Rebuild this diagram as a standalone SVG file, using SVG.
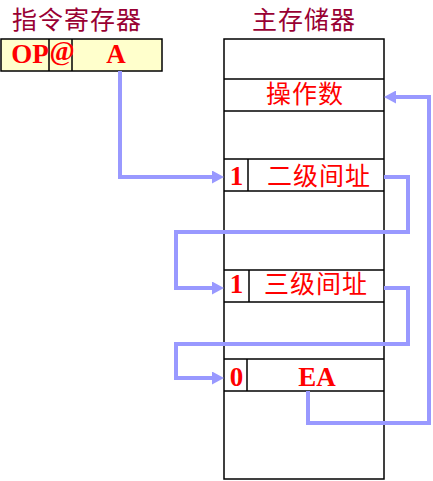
<svg xmlns="http://www.w3.org/2000/svg" width="433" height="481" viewBox="0 0 433 481">
<style>
.title{font-family:"Noto Sans CJK SC","Noto Sans",sans-serif;font-size:25px;fill:#990033;letter-spacing:1px}
.cjk{font-family:"Noto Sans CJK SC","Noto Sans",sans-serif;font-size:25px;fill:#ff0000;letter-spacing:1px}
.lat{font-family:"Liberation Serif",serif;font-weight:bold;font-size:27px;fill:#ff0000}
.box{fill:#ffffff;stroke:#000000;stroke-width:1.5}
.reg{fill:#ffffcc;stroke:#000000;stroke-width:1.5}
.ln{stroke:#000000;stroke-width:1.5;fill:none}
.conn{fill:none;stroke:#9999ff;stroke-width:4}
</style>
<defs>
<marker id="ah" viewBox="0 0 12 13" refX="0" refY="6.5" markerWidth="12" markerHeight="13" markerUnits="userSpaceOnUse" orient="auto">
<path d="M0,0 L12,6.5 L0,13 z" fill="#9999ff"/>
</marker>
</defs>
<g id="register">
<text class="title" x="12" y="29">指令寄存器</text>
<rect class="reg" x="1" y="39" width="161" height="32"/>
<line class="ln" x1="49" y1="39" x2="49" y2="71"/>
<line class="ln" x1="72" y1="39" x2="72" y2="71"/>
<text class="lat" x="30" y="63" text-anchor="middle">OP</text>
<text class="lat" x="62" y="60" text-anchor="middle">@</text>
<text class="lat" x="116" y="63" text-anchor="middle">A</text>
</g>
<g id="memory">
<text class="title" x="304" y="29" text-anchor="middle">主存储器</text>
<rect class="box" x="224" y="39" width="160" height="440"/>
<line class="ln" x1="224" y1="79" x2="384" y2="79"/>
<line class="ln" x1="224" y1="111" x2="384" y2="111"/>
<line class="ln" x1="224" y1="159" x2="384" y2="159"/>
<line class="ln" x1="224" y1="191" x2="384" y2="191"/>
<line class="ln" x1="224" y1="270" x2="384" y2="270"/>
<line class="ln" x1="224" y1="302" x2="384" y2="302"/>
<line class="ln" x1="224" y1="359" x2="384" y2="359"/>
<line class="ln" x1="224" y1="391" x2="384" y2="391"/>
<line class="ln" x1="248" y1="159" x2="248" y2="191"/>
<line class="ln" x1="249" y1="270" x2="249" y2="302"/>
<line class="ln" x1="247" y1="359" x2="247" y2="391"/>
</g>
<g id="operand">
<text class="cjk" x="305" y="103" text-anchor="middle">操作数</text>
</g>
<g id="level2">
<text class="lat" x="236.5" y="185" text-anchor="middle">1</text>
<text class="cjk" x="319" y="185" text-anchor="middle">二级间址</text>
</g>
<g id="level3">
<text class="lat" x="236.5" y="293" text-anchor="middle">1</text>
<text class="cjk" x="316" y="293" text-anchor="middle">三级间址</text>
</g>
<g id="ea">
<text class="lat" x="236.5" y="386" text-anchor="middle">0</text>
<text class="lat" x="317" y="386" text-anchor="middle">EA</text>
</g>
<g id="connectors">
<path class="conn" d="M120,71 V177 H212" marker-end="url(#ah)"/>
<path class="conn" d="M384,177 H408 V232 H176 V288 H212" marker-end="url(#ah)"/>
<path class="conn" d="M384,288 H408 V344 H176 V378 H212" marker-end="url(#ah)"/>
<path class="conn" d="M308,391 V423 H429 V97 H396" marker-end="url(#ah)"/>
</g>
</svg>
